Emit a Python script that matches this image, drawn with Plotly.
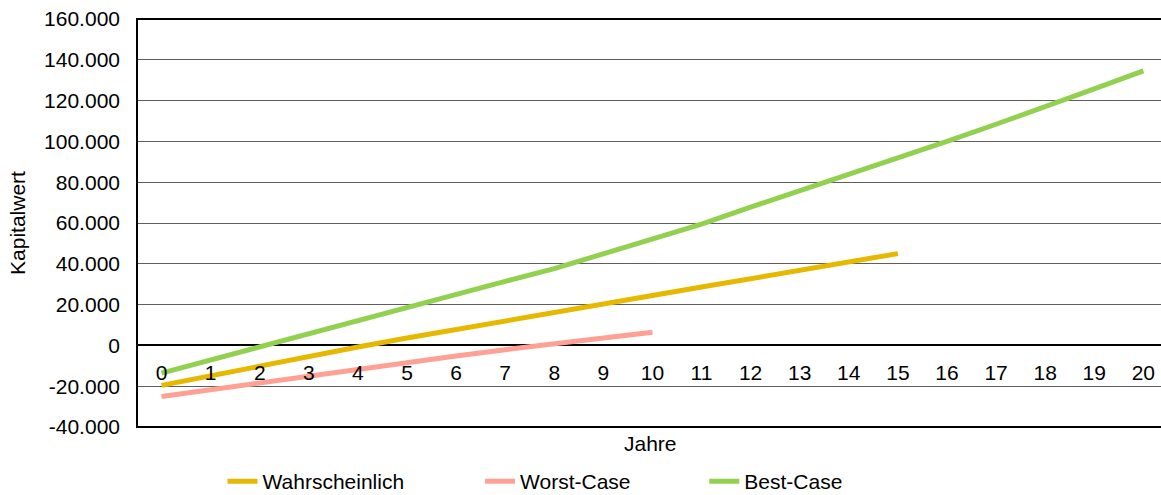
import plotly.graph_objects as go

years = list(range(21))
wahrscheinlich = [-19600, -14800, -10000, -5300, -800, 3600, 7900, 12100, 16300, 20400,
                  24500, 28600, 32700, 36800, 40900, 45000]
worst_case = [-25000, -21600, -18200, -14900, -11600, -8400, -5200, -2100, 900, 3700, 6400]
best_case = [-13600, -7100, -700, 5700, 12050, 18400, 24800, 31400, 37600, 44800,
             52000, 59500, 67800, 75700, 83800, 91900, 100000, 108400, 116900, 125700, 134600]

y_ticks = [-40000, -20000, 0, 20000, 40000, 60000, 80000, 100000, 120000, 140000, 160000]
y_ticktext = ["-40.000", "-20.000", "0", "20.000", "40.000", "60.000", "80.000",
              "100.000", "120.000", "140.000", "160.000"]

FONT = "Liberation Sans, Arial, sans-serif"
FS = 21

fig = go.Figure()
fig.add_trace(go.Scatter(x=years[:len(wahrscheinlich)], y=wahrscheinlich, mode="lines",
                         name="Wahrscheinlich", line=dict(color="#E6B800", width=5),
                         legend="legend"))
fig.add_trace(go.Scatter(x=years[:len(worst_case)], y=worst_case, mode="lines",
                         name="Worst-Case", line=dict(color="#FFA095", width=5),
                         legend="legend2"))
fig.add_trace(go.Scatter(x=years[:len(best_case)], y=best_case, mode="lines",
                         name="Best-Case", line=dict(color="#92D050", width=5),
                         legend="legend3"))

leg_common = dict(orientation="h", xanchor="left", y=-0.184, yanchor="bottom",
                  font=dict(size=FS), bgcolor="rgba(0,0,0,0)")

fig.update_layout(
    width=1161, height=495,
    margin=dict(l=137, r=0, t=19, b=68, autoexpand=False),
    paper_bgcolor="white", plot_bgcolor="white",
    font=dict(family=FONT, size=FS, color="black"),
    showlegend=True,
    legend=dict(x=0.0835, **leg_common),
    legend2=dict(x=0.335, **leg_common),
    legend3=dict(x=0.554, **leg_common),
    xaxis=dict(range=[-0.5, 20.36], tickmode="array", tickvals=years,
               ticktext=[str(y) for y in years],
               anchor="free", position=0.2, showline=False, showgrid=False,
               zeroline=False, ticks="", ticklabelstandoff=13,
               tickfont=dict(size=FS)),
    yaxis=dict(range=[-40000, 160000], tickmode="array", tickvals=y_ticks,
               ticktext=y_ticktext, showgrid=True, gridcolor="#5e5e5e", gridwidth=1,
               zeroline=True, zerolinecolor="black", zerolinewidth=2,
               showline=False, ticks="", ticklabelstandoff=16,
               title=dict(text="Kapitalwert", standoff=12, font=dict(size=FS))),
    shapes=[dict(type="rect", xref="paper", yref="paper", x0=0, x1=1.05, y0=0, y1=1,
                 line=dict(color="black", width=2), layer="above")],
    annotations=[dict(text="Jahre", xref="paper", yref="paper", x=0.501, y=-0.04,
                      xanchor="center", yanchor="middle", showarrow=False,
                      font=dict(size=FS))],
)

fig.write_html("out.html")
